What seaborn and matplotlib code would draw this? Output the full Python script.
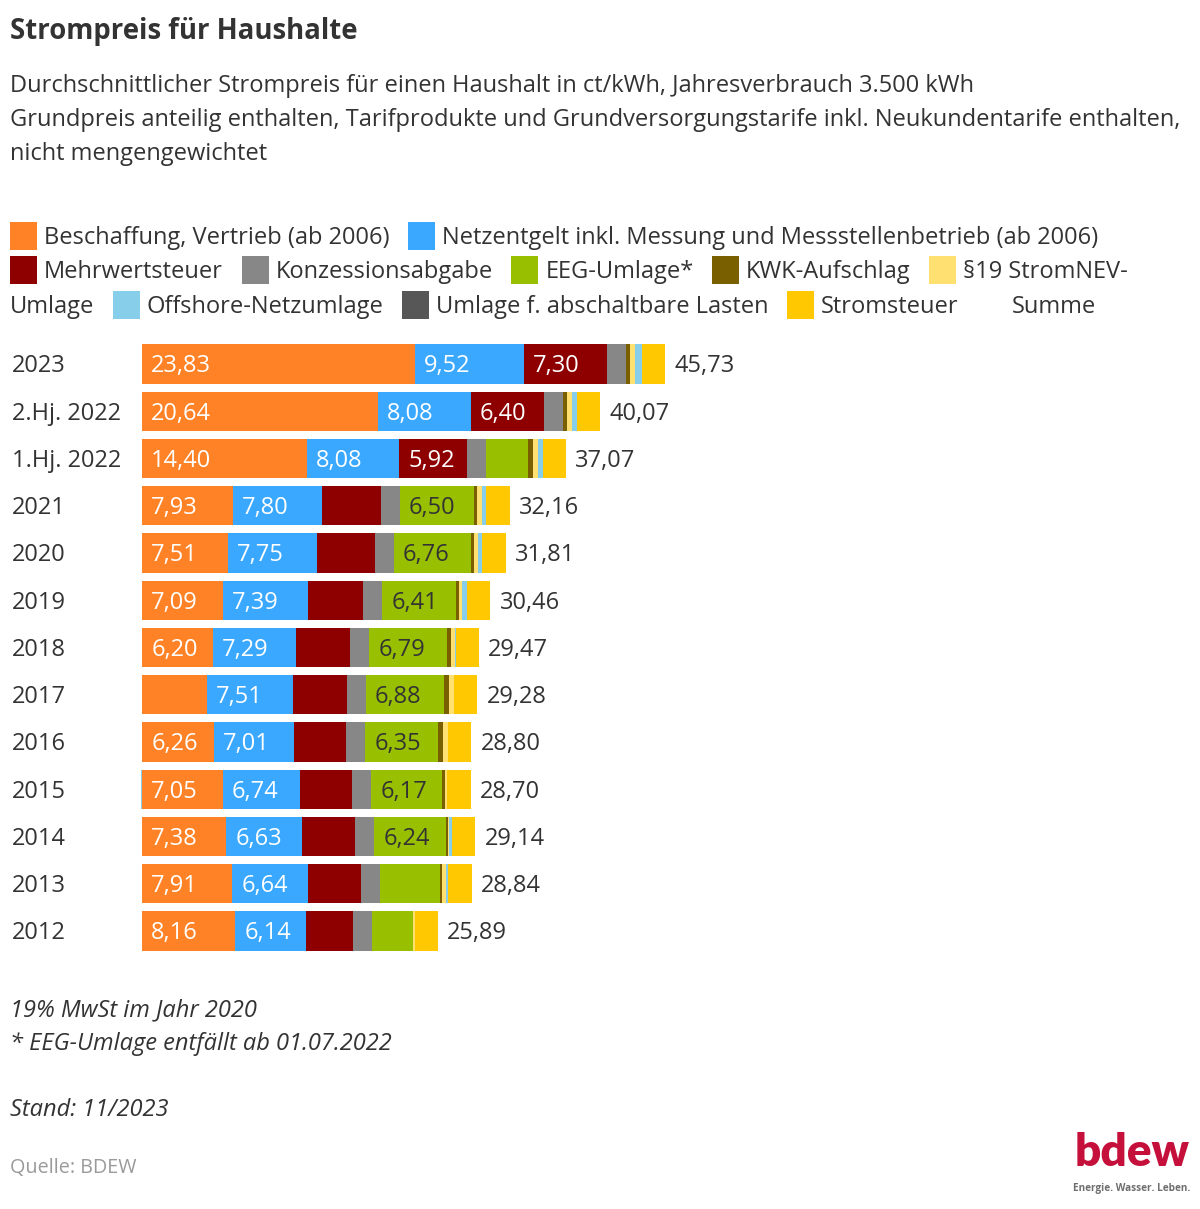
import matplotlib
matplotlib.use("Agg")
import matplotlib.pyplot as plt
from matplotlib.patches import Rectangle
import numpy as np
import seaborn as sns

# --- data (ct/kWh) ---
years = ["2023", "2.Hj. 2022", "1.Hj. 2022", "2021", "2020", "2019", "2018",
         "2017", "2016", "2015", "2014", "2013", "2012"]
beschaffung = [23.83, 20.64, 14.40, 7.93, 7.51, 7.09, 6.20, 5.69, 6.26, 7.05, 7.38, 7.91, 8.16]
netzentgelt = [9.52, 8.08, 8.08, 7.80, 7.75, 7.39, 7.29, 7.51, 7.01, 6.74, 6.63, 6.64, 6.14]
mwst = [7.30, 6.40, 5.92, 5.13, 5.08, 4.86, 4.71, 4.68, 4.60, 4.58, 4.65, 4.60, 4.13]
konzession = [1.66, 1.66, 1.66, 1.66, 1.66, 1.66, 1.66, 1.66, 1.66, 1.66, 1.66, 1.66, 1.66]
eeg = [0.00, 0.00, 3.72, 6.50, 6.76, 6.41, 6.79, 6.88, 6.35, 6.17, 6.24, 5.28, 3.59]
kwk = [0.36, 0.38, 0.38, 0.25, 0.23, 0.28, 0.35, 0.44, 0.45, 0.25, 0.18, 0.13, 0.01]
strom_nev = [0.42, 0.44, 0.44, 0.43, 0.36, 0.31, 0.37, 0.39, 0.38, 0.24, 0.09, 0.32, 0.15]
offshore = [0.59, 0.42, 0.42, 0.40, 0.40, 0.40, 0.04, -0.03, 0.04, -0.05, 0.25, 0.25, 0.00]
abschaltbar = [0.00, 0.00, 0.00, 0.01, 0.01, 0.01, 0.01, 0.01, 0.00, 0.01, 0.01, 0.00, 0.00]
stromsteuer = [2.05, 2.05, 2.05, 2.05, 2.05, 2.05, 2.05, 2.05, 2.05, 2.05, 2.05, 2.05, 2.05]
summe = [45.73, 40.07, 37.07, 32.16, 31.81, 30.46, 29.47, 29.28, 28.80, 28.70, 29.14, 28.84, 25.89]

series_names = ["Beschaffung, Vertrieb (ab 2006)",
                "Netzentgelt inkl. Messung und Messstellenbetrieb (ab 2006)",
                "Mehrwertsteuer", "Konzessionsabgabe", "EEG-Umlage*", "KWK-Aufschlag",
                "§19 StromNEV-Umlage", "Offshore-Netzumlage",
                "Umlage f. abschaltbare Lasten", "Stromsteuer"]
series = [beschaffung, netzentgelt, mwst, konzession, eeg, kwk,
          strom_nev, offshore, abschaltbar, stromsteuer]
colors = ["#ff8326", "#3aa8ff", "#8e0000", "#878787", "#99c000", "#7a5f00",
          "#ffe070", "#87ceeb", "#575757", "#ffc800"]
label_colors = ["white", "white", "white", "white", "#333333", "white",
                "#333333", "#333333", "white", "#333333"]

TXT = "#333333"
W, H = 1200, 1209
PX = 11.44      # pixels per ct/kWh
X0 = 142        # pixel position of zero
FS = 17         # main text size

sns.set_theme(style="white")
plt.rcParams["font.family"] = ["Open Sans", "DejaVu Sans"]

fig = plt.figure(figsize=(W / 100, H / 100), dpi=100)


def fx(px):
    return px / W


def fy(py):
    return 1 - py / H


# --- bars ---
ax = fig.add_axes([0, fy(955), 1, (955 - 340) / H])
vals = np.array(series, dtype=float)            # (10, 13)
pos = np.clip(vals, 0, None)
neg = np.clip(vals, None, 0).sum(axis=0)
cum = np.cumsum(pos, axis=0)

for k in range(len(series) - 1, -1, -1):
    sns.barplot(x=cum[k], y=years, color=colors[k], width=0.83, orient="h",
                saturation=1, ax=ax, linewidth=0)
sns.barplot(x=neg, y=years, color=colors[7], width=0.83, orient="h",
            saturation=1, ax=ax, linewidth=0)

ax.set_xlim(-X0 / PX, (W - X0) / PX)
ax.set_ylim(12.508, -0.508)
ax.axis("off")

ytr = ax.get_yaxis_transform()
for i, yr in enumerate(years):
    ax.text(fx(12), i + 0.05, yr, transform=ytr, ha="left", va="center",
            fontsize=FS, color=TXT)
    # segment labels
    for k in (0, 1, 2, 4):
        v = vals[k, i]
        if v >= 5.9:
            start = cum[k, i] - pos[k, i]
            ax.text(start + 0.8, i + 0.05, f"{v:.2f}".replace(".", ","), ha="left",
                    va="center", fontsize=FS, color=label_colors[k])
    ax.text(cum[-1, i] + 0.8, i + 0.05, f"{summe[i]:.2f}".replace(".", ","),
            ha="left", va="center", fontsize=FS, color=TXT)

# --- title block ---
fig.text(fx(10), fy(32), "Strompreis für Haushalte", fontsize=19.8,
         fontweight="bold", color=TXT, va="center")
sub = ["Durchschnittlicher Strompreis für einen Haushalt in ct/kWh, Jahresverbrauch 3.500 kWh",
       "Grundpreis anteilig enthalten, Tarifprodukte und Grundversorgungstarife inkl. Neukundentarife enthalten,",
       "nicht mengengewichtet"]
for j, line in enumerate(sub):
    fig.text(fx(10), fy(86 + 34 * j), line, fontsize=FS, color=TXT, va="center")

# --- legend (flowing layout) ---
fig.canvas.draw()
renderer = fig.canvas.get_renderer()
leg_lines = [
    [(0, series_names[0]), (1, series_names[1])],
    [(2, series_names[2]), (3, series_names[3]), (4, series_names[4]),
     (5, series_names[5]), (6, "§19 StromNEV-")],
    [(None, "Umlage"), (7, series_names[7]), (8, series_names[8]),
     (9, series_names[9]), ("blank", "Summe")],
]
for j, items in enumerate(leg_lines):
    yc = 236 + 34.5 * j
    x = 10
    for idx, name in items:
        if idx is not None:
            c = "white" if idx == "blank" else colors[idx]
            fig.add_artist(Rectangle((fx(x), fy(yc + 14)), 27 / W, 28 / H,
                                     transform=fig.transFigure, color=c, lw=0))
            x += 34
        t = fig.text(fx(x), fy(yc + 2), name, fontsize=FS, color=TXT, va="center")
        x += t.get_window_extent(renderer).width + 18.5

# --- notes ---
fig.text(fx(10), fy(1010), "19% MwSt im Jahr 2020", fontsize=FS, style="italic",
         color=TXT, va="center")
fig.text(fx(10), fy(1044), "* EEG-Umlage entfällt ab 01.07.2022", fontsize=FS,
         style="italic", color=TXT, va="center")
fig.text(fx(10), fy(1110), "Stand: 11/2023", fontsize=FS, style="italic",
         color=TXT, va="center")
fig.text(fx(10), fy(1168), "Quelle: BDEW", fontsize=14.2, color="#9a9a9a", va="center")

# --- logo ---
fig.text(fx(1190), fy(1153), "bdew", fontsize=33, fontweight="heavy",
         color="#c4103a", ha="right", va="center", family=["Lato", "DejaVu Sans"])
fig.text(fx(1190), fy(1188), "Energie. Wasser. Leben.", fontsize=7.2,
         fontweight="bold", color="#6e6e6e", ha="right", va="center")

fig.savefig("out.png", dpi=100, facecolor="white")
